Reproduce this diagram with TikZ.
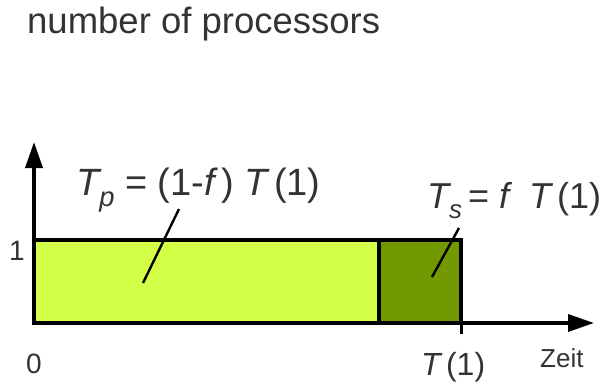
\documentclass[tikz,border=0pt]{standalone}
\usepackage{fontspec}
\setmainfont{Liberation Sans}
\usetikzlibrary{arrows.meta}
\definecolor{lightgreen}{HTML}{D4FF47}
\definecolor{darkgreen}{HTML}{739900}
\definecolor{txt}{HTML}{333333}
\newcommand{\sub}[1]{\raisebox{-0.3em}{\fontsize{0.72em}{1em}\selectfont\itshape #1}}
\tikzset{
  axis/.style={line width=3.5pt,-{Triangle[length=26pt,width=17pt]}},
  box/.style={draw=black,line width=3.2pt},
  leader/.style={line width=2.4pt},
  lbl/.style={text=txt,inner sep=0pt,anchor=base west},
}
\begin{document}
\begin{tikzpicture}[x=1pt,y=-1pt]
\useasboundingbox (0,0) rectangle (605,383);
% boxes
\filldraw[box,fill=lightgreen] (34,240) rectangle (379,323);
\filldraw[box,fill=darkgreen] (379,240) rectangle (461,323);
% axes
\coordinate (o) at (34,323);
\coordinate (ytip) at (34,142);
\coordinate (xtip) at (594,323);
\draw[axis] (o) -- (ytip);
\draw[axis] (o) -- (xtip);
\coordinate (tk1) at (461,323);
\coordinate (tk2) at (461,334);
\draw[line width=3pt] (tk1) -- (tk2);
% labels
\node[lbl,font=\fontsize{36.5}{40}\selectfont] (title) at (27,33) {number of processors};
\node[lbl,font=\fontsize{38}{42}\selectfont] (tp) at (76,195) {{\itshape T}\sub{p} = (1-{\itshape f}\,) {\itshape T}\,(1)};
\node[lbl,font=\fontsize{36}{40}\selectfont] (ts) at (427,208) {{\itshape T}\sub{s}\,= {\itshape f}\ \ {\itshape T}\,(1)};
\node[lbl,font=\fontsize{28}{32}\selectfont] (one) at (9,260) {1};
\node[lbl,font=\fontsize{28}{32}\selectfont] (zero) at (26,373) {0};
\node[lbl,font=\fontsize{32}{36}\selectfont] (t1) at (421,375) {{\itshape T}\,(1)};
\node[lbl,font=\fontsize{26}{30}\selectfont] (zeit) at (540,367) {Zeit};
% leaders
\coordinate (a1) at (143,283);
\coordinate (a2) at (179,209);
\coordinate (b1) at (432,277);
\coordinate (b2) at (459,228);
\draw[leader] (a1) -- (a2);
\draw[leader] (b1) -- (b2);
\end{tikzpicture}
\end{document}
